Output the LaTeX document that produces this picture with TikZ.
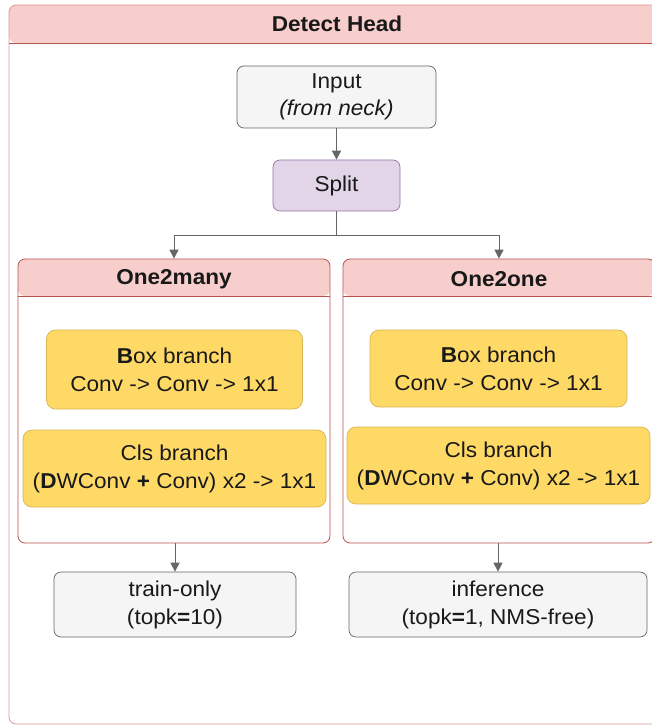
\documentclass[tikz,border=0pt]{standalone}
\usepackage{fontspec}
\setmainfont[FakeStretch=1.05]{Liberation Sans}
\usetikzlibrary{arrows.meta}
\definecolor{hdrfill}{HTML}{F8CECC}
\definecolor{hdrline}{HTML}{B85450}
\definecolor{frameline}{HTML}{D99A98}
\definecolor{greyfill}{HTML}{F5F5F5}
\definecolor{greyline}{HTML}{666666}
\definecolor{purpfill}{HTML}{E1D5E7}
\definecolor{purpline}{HTML}{9673A6}
\definecolor{yelfill}{HTML}{FFD966}
\definecolor{yelline}{HTML}{D6B656}
\tikzset{
  txt/.style={font=\fontsize{21.5}{28}\selectfont, align=center, text=black!90},
  panel/.style={draw=hdrline, line width=0.8pt, rounded corners=7pt, fill=white,
    inner sep=0pt,
    path picture={
      \fill[hdrfill] (path picture bounding box.north west)
        rectangle ([yshift=-#1]path picture bounding box.north east);
      \draw[hdrline, line width=0.8pt] ([yshift=-#1]path picture bounding box.north west)
        -- ([yshift=-#1]path picture bounding box.north east);
    }},
  greybox/.style={txt, draw=greyline, line width=0.7pt, fill=greyfill, rounded corners=7pt, inner sep=0pt},
  purpbox/.style={txt, draw=purpline, line width=0.7pt, fill=purpfill, rounded corners=7pt, inner sep=0pt},
  yelbox/.style={txt, draw=yelline, line width=0.7pt, fill=yelfill, rounded corners=9pt, inner sep=0pt},
  title/.style={font=\fontsize{21.5}{28}\selectfont\bfseries, text=black!90},
  link/.style={draw=greyline, line width=0.9pt},
  arr/.style={link, -{Triangle[length=9pt,width=9pt]}},
}
\begin{document}
\begin{tikzpicture}[x=1pt,y=-1pt]
\useasboundingbox (0,0) rectangle (652,727);
\clip (0,0) rectangle (652,727);

% outer frame with its title band
\node[panel=38pt, draw=frameline, minimum width=656pt, minimum height=719pt] (head) at (337,364.5) {};
\draw[hdrline, line width=0.8pt] (9,43) -- (665,43);
\node[title] (headtitle) at (337,24) {Detect Head};

% input and split
\node[greybox, minimum width=199pt, minimum height=62pt] (input) at (336.5,97)
  {Input\\[-1pt]\textit{(from neck)}};
\node[purpbox, minimum width=127pt, minimum height=51pt] (split) at (336.5,185.5) {Split};

% the two branch panels
\node[panel=37pt, minimum width=312pt, minimum height=284pt] (many) at (174,401) {};
\node[title] (manytitle) at (174,279) {One2many};
\node[panel=37pt, minimum width=312pt, minimum height=284pt] (one) at (499,401) {};
\node[title] (onetitle) at (499,279) {One2one};

% heads inside the panels
\node[yelbox, minimum width=256pt, minimum height=79pt] (mbox) at (174.5,369.5)
  {\textbf{B}ox branch\\Conv -> Conv -> 1x1};
\node[yelbox, minimum width=303pt, minimum height=77pt] (mcls) at (174.5,468.5)
  {Cls branch\\(\textbf{D}WConv \textbf{+} Conv) x2 -> 1x1};
\node[yelbox, minimum width=257pt, minimum height=77pt] (obox) at (498.5,368.5)
  {\textbf{B}ox branch\\Conv -> Conv -> 1x1};
\node[yelbox, minimum width=303pt, minimum height=77pt] (ocls) at (498.5,465.5)
  {Cls branch\\(\textbf{D}WConv \textbf{+} Conv) x2 -> 1x1};

% outputs
\node[greybox, minimum width=242pt, minimum height=65pt] (train) at (175,604.5)
  {train-only\\(topk\textbf{=}10)};
\node[greybox, minimum width=298pt, minimum height=65pt] (infer) at (498,604.5)
  {inference\\(topk\textbf{=}1, NMS-free)};

% connectors
\coordinate (fork) at (336.5,235);
\draw[arr] (input) -- (split);
\draw[link] (split) -- (fork);
\draw[arr] (fork) -| (many.north);
\draw[arr] (fork) -| (one.north);
\draw[arr] (train.north |- many.south) -- (train);
\draw[arr] (infer.north |- one.south) -- (infer);
\end{tikzpicture}
\end{document}
